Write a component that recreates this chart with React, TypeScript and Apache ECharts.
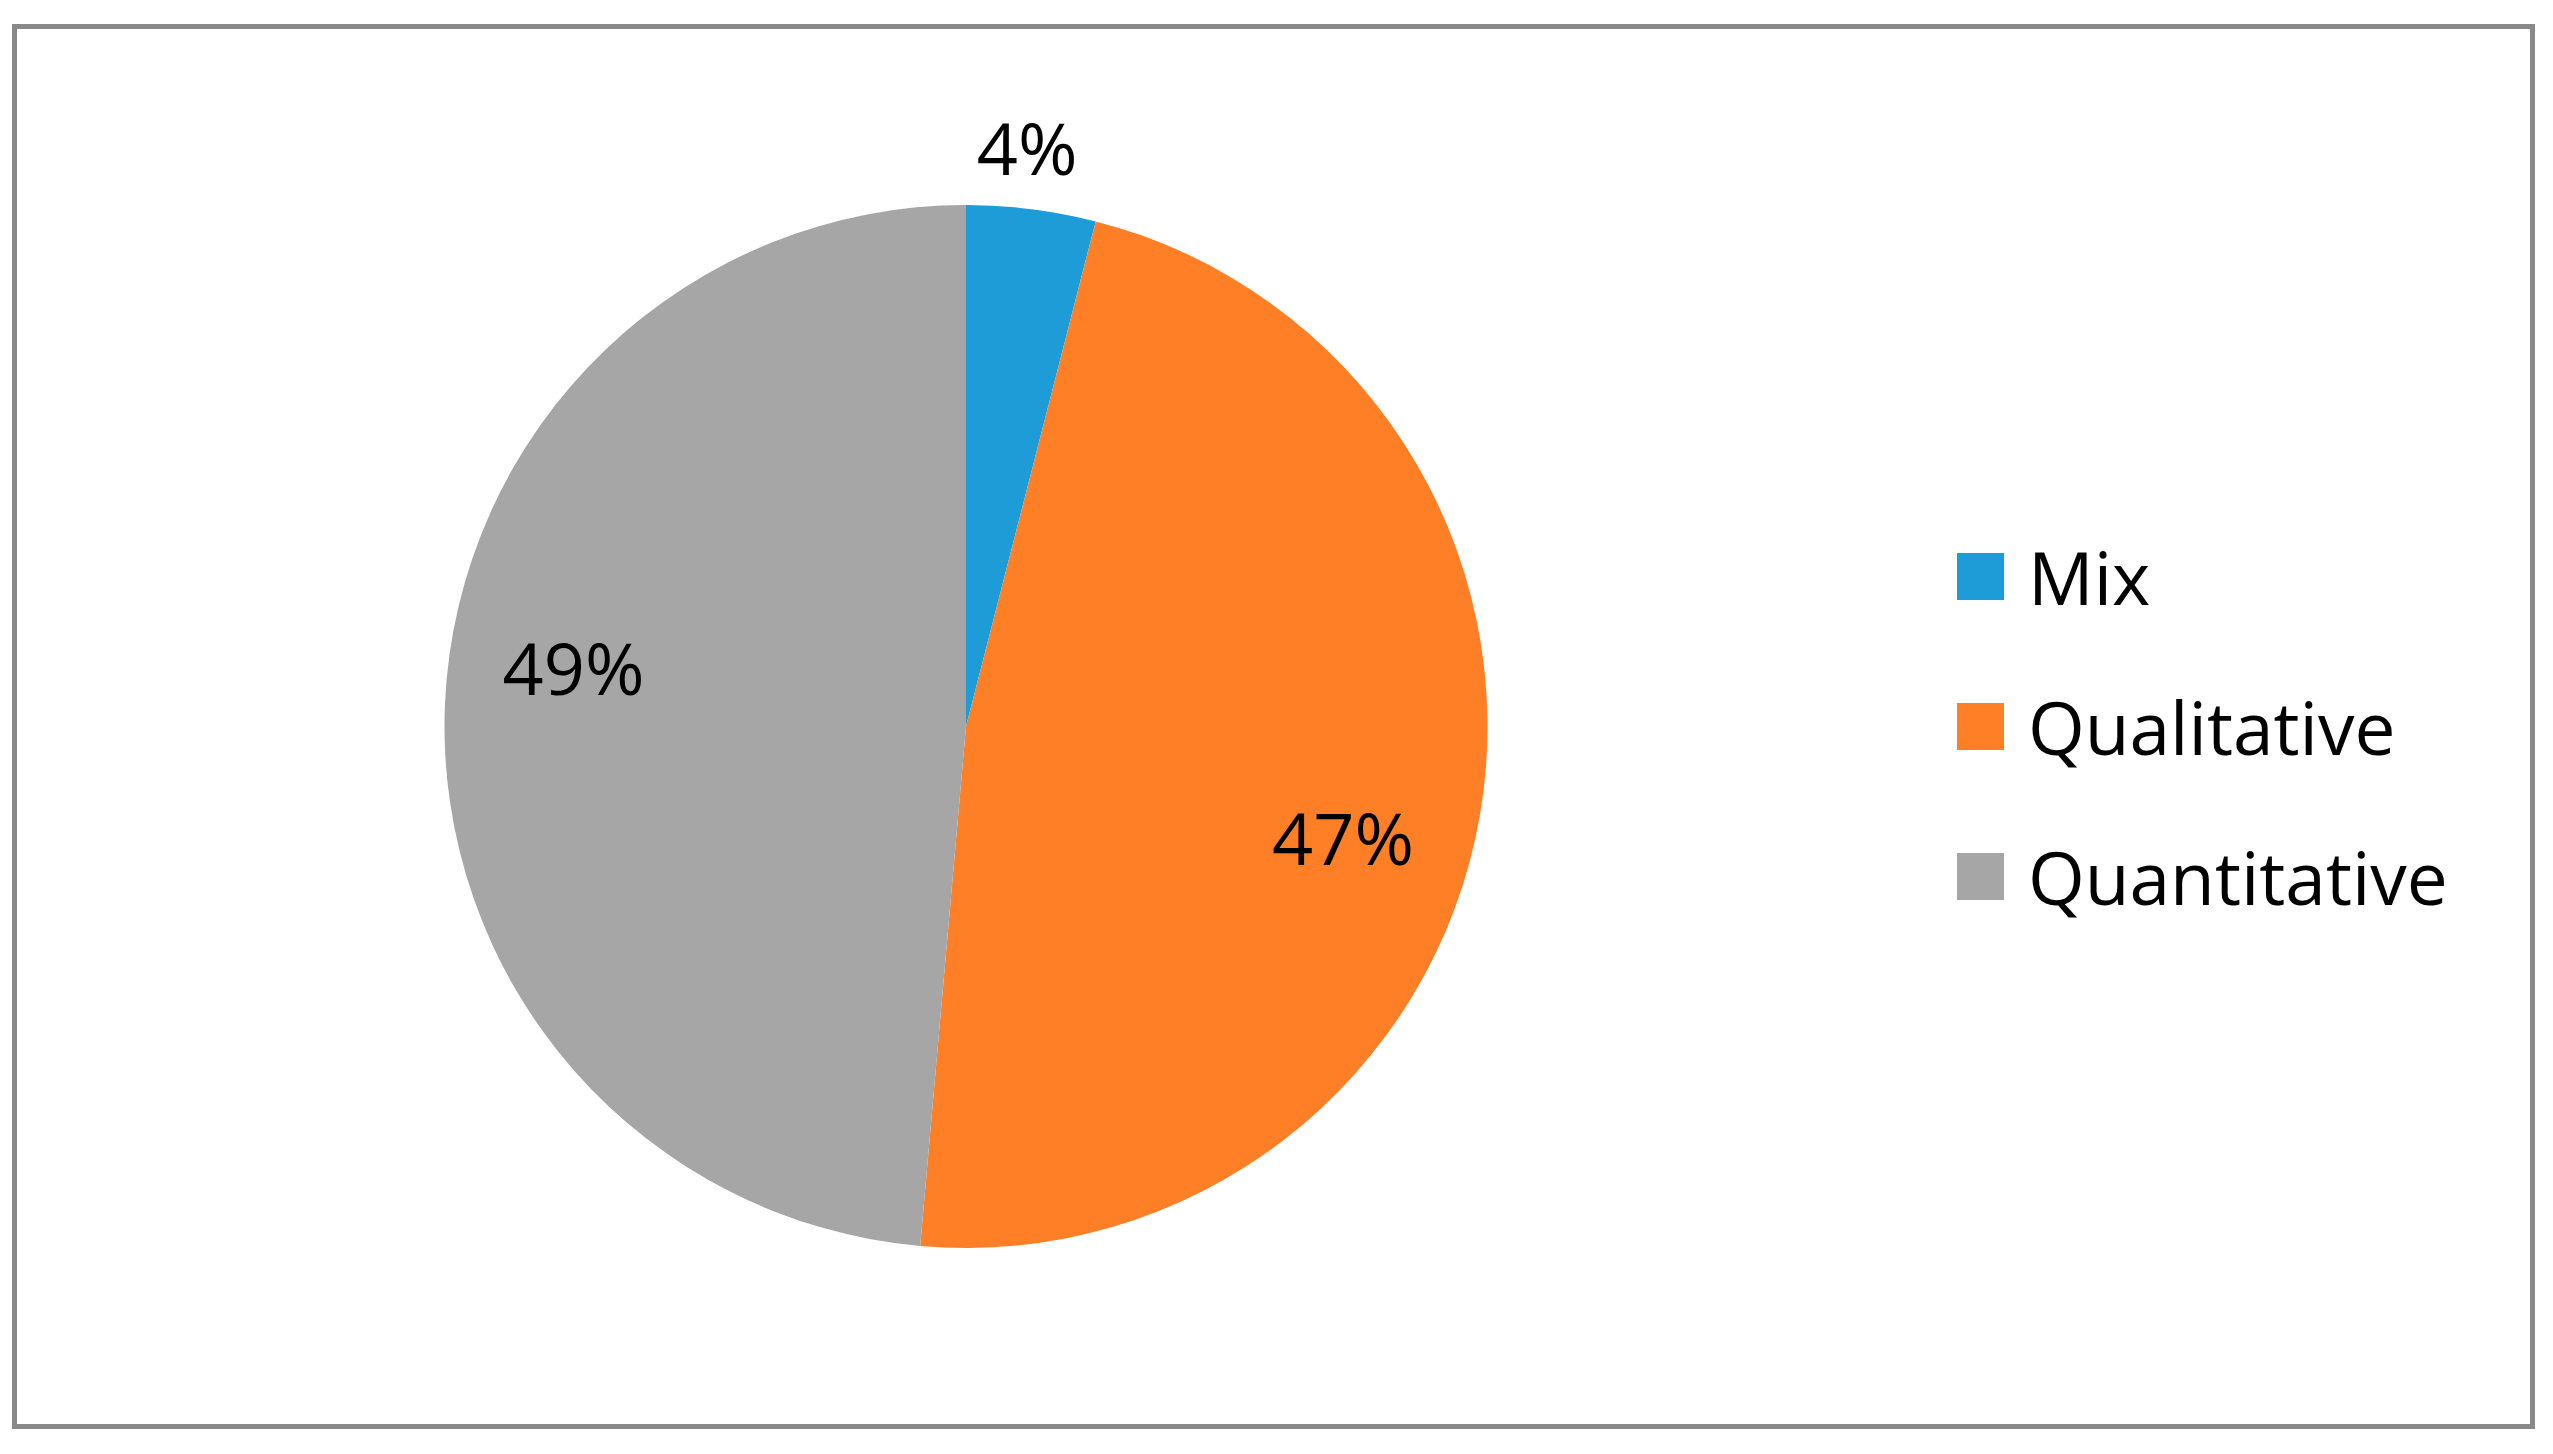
import React, { useEffect, useRef } from "react";
import * as echarts from "echarts";

const categories = ["Mix", "Qualitative", "Quantitative"];
const values = [4.0, 47.4, 48.6];
const colors = ["#1E9CD8", "#FF7F27", "#A6A6A6"];
const labelOffsets: [number, number][] = [
  [28, -318],
  [117, 66],
  [-129, -48],
];

export default function App() {
  const ref = useRef<HTMLDivElement>(null);
  useEffect(() => {
    if (!ref.current) return;
    const chart = echarts.init(ref.current, undefined, { renderer: "svg" });
    const font = "'Open Sans', 'Noto Sans', sans-serif";
    chart.setOption({
      animation: false,
      backgroundColor: "#ffffff",
      color: colors,
      graphic: [
        {
          type: "rect",
          shape: { x: 14.5, y: 26.5, width: 2518, height: 1400 },
          style: { fill: "none", stroke: "#898989", lineWidth: 5 },
          silent: true,
        },
      ],
      legend: {
        orient: "vertical",
        left: 1957,
        top: 532.5,
        padding: 0,
        icon: "rect",
        itemWidth: 47,
        itemHeight: 47,
        itemGap: 62,
        data: categories,
        textStyle: {
          fontFamily: font,
          fontSize: 73,
          color: "#000000",
          lineHeight: 80,
          padding: [0, 0, 8, 19],
        },
      },
      series: [
        {
          type: "pie",
          center: [966, 726.5],
          radius: 521.5,
          startAngle: 90,
          clockwise: true,
          avoidLabelOverlap: false,
          itemStyle: { borderWidth: 0 },
          labelLine: { show: false },
          emphasis: { disabled: true },
          data: categories.map((name, i) => ({
            name,
            value: values[i],
            label: {
              show: true,
              position: "inside",
              offset: labelOffsets[i],
              formatter: (p: any) => Math.round(p.percent) + "%",
              color: "#000000",
              fontFamily: font,
              fontSize: 72,
            },
          })),
        },
      ],
    });
    return () => chart.dispose();
  }, []);
  return (
    <div
      ref={ref}
      style={{ position: "fixed", left: 0, top: 0, width: 2553, height: 1454 }}
    />
  );
}
